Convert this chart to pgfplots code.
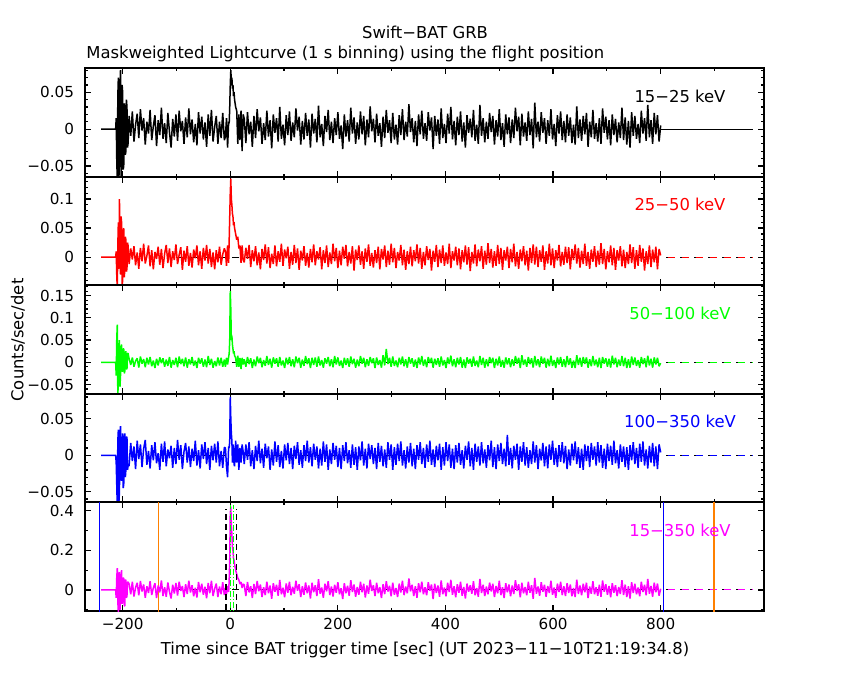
\documentclass[border=0pt]{standalone}
\usepackage{fontspec}
\setmainfont{DejaVu Sans}
\usepackage{pgfplots}
\pgfplotsset{compat=1.18}
\usepackage{pgfplotstable}
\definecolor{bgreen}{RGB}{0,255,0}
\definecolor{bmag}{RGB}{255,0,255}
\definecolor{borange}{RGB}{255,128,0}
\definecolor{bblue}{RGB}{0,0,255}
\definecolor{bred}{RGB}{255,0,0}

% rates in units of 0.001 counts/sec/det
\pgfplotstableread{
t a b c d e
-240 0 0 0 0 0
-213 0 0 0 0 0
-212 15 10 -30 -10 -40
-211 -40 -30 50 -40 60
-210 -70 -55 85 -70 110
-209 45 20 -75 20 -60
-208 70 60 -40 35 -110
-207 -70 -20 30 -65 80
-206 -30 100 50 -50 90
-205 55 40 -55 30 -100
-204 80 -30 -30 40 -50
-203 -65 70 25 -30 70
-202 -40 60 40 -35 100
-201 60 -50 -20 15 -70
-200 50 -40 -20 30 -40
-199 -55 45 30 -45 60
-198 -50 50 30 -40 60
-197 35 -35 -25 25 -80
-196 30 -20 -20 30 -80
-195 -35 35 20 -30 50
-194 -30 30 25 -20 50
-193 40 -25 -15 25 -40
-192 30 -20 -15 25 -30
-191 -25 25 20 -20 40
-190 -20 20 20 -15 40
-188 18 -12 8 -14 30
-185 -9 15 -6 17 -22
-182 24 -4 11 -8 41
-179 -17 19 -10 12 -33
-176 6 -14 3 -19 12
-173 21 8 9 20 36
-170 -12 -20 -12 -5 -27
-167 27 16 13 15 45
-164 -2 -7 -3 -16 -8
-161 15 23 7 9 28
-158 -21 -11 -11 21 -39
-155 10 2 10 -13 19
-152 -6 20 -5 6 -15
-149 26 -16 12 -18 44
-146 -15 12 -9 14 -25
-143 4 -21 4 -7 10
-140 19 9 -13 18 34
-137 -23 -3 8 -11 -41
-134 12 18 -7 3 22
-131 -8 -13 11 -20 -12
-128 29 14 -2 16 48
-125 -13 -19 9 -9 -30
-122 8 6 -10 19 14
-119 -19 21 6 -15 -34
-116 22 -10 -8 8 38
-113 -4 15 12 -4 -9
-110 -25 -17 -12 13 -43
-107 14 10 5 -17 26
-104 -10 -5 -6 10 -18
-101 20 22 10 -12 35
-98 -16 -12 -11 21 -28
-95 25 4 13 -6 42
-92 -3 17 -4 14 -5
-89 11 -22 8 -19 20
-86 -20 11 -9 5 -36
-83 16 -8 11 17 29
-80 -11 19 -12 -10 -20
-77 28 -15 7 12 47
-74 -7 7 -5 -16 -13
-71 13 -18 12 9 24
-68 -18 13 -8 -8 -32
-65 7 -2 4 20 11
-62 -22 20 -13 -14 -38
-59 23 -14 10 7 40
-56 -6 10 -3 -18 -11
-53 17 -20 9 15 31
-50 -14 16 -10 -5 -24
-47 9 -6 6 18 16
-44 -24 21 -11 -12 -42
-41 20 -11 14 10 35
-38 -9 14 -6 -20 -16
-35 26 -17 8 13 46
-32 -17 8 -12 -7 -30
-29 3 -21 3 16 6
-26 18 12 -9 -10 32
-23 -20 -9 11 19 -35
-20 10 18 -7 -15 17
-17 -12 -13 10 6 -21
-14 22 5 -10 -17 39
-11 -15 15 6 11 -26
-9 -10 10 -10 10 10
-7 15 -15 10 -15 -20
-5 -25 20 -5 -30 20
-3 10 -10 12 12 -10
-2 8 30 20 10 50
-1 30 70 50 20 150
0 60 110 160 80 380
1 80 135 120 50 420
2 65 100 50 30 330
3 70 90 60 20 280
4 55 75 40 -10 220
5 60 70 30 15 200
6 45 55 20 10 160
7 50 60 25 -12 150
8 40 50 15 -15 130
10 30 40 10 20 100
12 25 30 -10 -10 80
14 -20 35 15 15 60
16 20 15 -10 -20 50
18 -15 20 10 10 30
20 25 -10 -15 -10 40
22 -30 20 10 15 10
24 20 -5 -5 5 30
26 14 -9 7 -12 25
29 -19 16 -10 15 -31
32 23 -3 12 -6 40
35 -7 21 -4 18 -12
38 10 -17 9 -15 19
41 -24 12 -13 7 -40
44 18 -7 6 -19 30
47 -12 19 -9 13 -21
50 27 -14 13 -8 45
53 -3 8 -2 20 -6
56 16 -21 10 -11 27
59 -20 14 -11 9 -35
62 8 -5 5 -17 14
65 -15 22 -8 16 -26
68 25 -11 14 -4 42
71 -10 17 -6 12 -17
74 12 -19 8 -20 22
77 -26 6 -12 8 -44
80 20 -12 11 -14 34
83 -5 20 -3 19 -9
86 15 -16 9 -9 26
89 -17 10 -10 14 -29
92 30 -8 12 -16 50
95 -13 23 -7 6 -22
98 6 -15 4 -18 11
101 -22 13 -13 15 -37
104 19 -2 10 -7 33
107 -8 18 -5 17 -14
110 24 -20 12 -12 41
113 -16 9 -9 10 -27
116 9 -13 7 -19 16
119 -11 21 -11 13 -19
122 28 -10 13 -5 47
125 -2 15 -2 18 -4
128 17 -22 10 -13 29
131 -21 11 -12 7 -36
134 11 -6 6 -17 19
137 -14 19 -8 14 -24
140 22 -15 14 -8 38
143 -9 7 -4 20 -16
146 13 -18 9 -10 23
149 -25 14 -13 11 -43
152 21 -9 10 -15 36
155 -6 22 -6 16 -11
158 14 -14 11 -6 24
161 -18 10 -10 12 -31
164 32 -4 13 -18 54
167 -11 17 -7 9 -19
170 7 -21 5 -14 12
173 -23 12 -12 19 -39
176 18 -10 9 -9 31
179 -4 20 -3 15 -7
182 26 -17 12 -20 44
185 -15 8 -9 8 -26
188 10 -12 7 -12 17
191 -19 23 -11 17 -33
194 15 -7 14 -6 26
197 -8 16 -5 13 -14
200 23 -19 11 -16 39
203 -13 11 -8 10 -22
206 5 -14 4 -19 9
209 -27 18 -13 14 -46
212 20 -3 10 -8 34
215 -10 21 -6 18 -17
218 12 -16 9 -11 21
221 -17 9 -10 7 -29
224 29 -11 13 -17 49
227 -6 19 -4 15 -10
230 16 -23 8 -13 27
233 -20 13 -12 11 -34
236 9 -5 6 -20 15
239 -14 20 -9 12 -24
242 24 -13 14 -7 41
245 -7 10 -3 19 -12
248 18 -20 10 -14 31
251 -22 15 -11 9 -38
254 13 -8 7 -18 22
257 -11 22 -8 16 -19
260 31 -15 12 -5 52
263 -3 7 -2 14 -5
266 14 -18 9 -12 24
269 -18 12 -13 10 -31
272 21 -10 11 -19 36
275 -9 18 -6 17 -16
278 8 -21 5 -9 14
281 -24 14 -12 13 -41
284 17 -4 16 -15 29
287 -12 20 -7 8 -21
290 26 -17 30 -17 44
293 -5 11 -4 18 -8
296 12 -13 10 -6 21
299 -19 23 -10 15 -32
302 22 -9 13 -20 37
305 -14 16 -8 11 -24
308 6 -19 4 -13 10
311 -21 9 -11 16 -36
314 19 -6 10 -8 32
317 -8 21 -5 19 -13
320 27 -14 13 -14 46
323 -15 13 -9 7 -26
326 10 -22 7 -18 17
329 -10 10 -12 12 -17
332 34 -12 12 -10 58
335 -4 18 -3 17 -7
338 15 -16 9 -15 26
341 -18 12 -10 9 -31
344 11 -7 6 -19 19
347 -23 22 -13 14 -39
350 20 -11 11 -6 34
353 -7 16 -5 18 -12
356 25 -20 14 -12 42
359 -13 9 -8 10 -22
362 8 -14 6 -17 14
365 -16 19 -11 15 -27
368 23 -5 12 -9 39
371 -2 14 -2 20 -4
374 16 -23 10 -13 27
377 -27 11 -12 8 -46
380 18 -8 8 -16 31
383 -9 21 -6 13 -15
386 13 -17 9 -7 22
389 -20 13 -10 16 -34
392 28 -10 13 -20 48
395 -12 20 -7 11 -21
398 7 -15 5 -14 12
401 -19 8 -13 18 -32
404 21 -12 11 -8 36
407 -6 23 -4 15 -10
410 30 -19 15 -17 51
413 -14 10 -9 9 -24
416 11 -6 7 -19 19
419 -22 18 -11 14 -37
422 17 -14 10 -10 29
425 -8 15 -5 17 -14
428 24 -21 12 -13 41
431 -17 12 -12 7 -29
434 9 -9 6 -18 15
437 -25 20 -13 13 -43
440 19 -13 11 -6 32
443 -5 17 -3 19 -9
446 14 -24 8 -15 24
449 -11 9 -10 10 -19
452 26 -11 13 -20 44
455 -16 22 -8 16 -27
458 6 -16 4 -9 10
461 -20 13 -11 12 -34
464 33 -7 14 -14 56
467 -9 19 -6 18 -15
470 15 -20 10 -11 26
473 -18 11 -12 8 -31
476 10 -13 7 -17 17
479 -13 24 -9 14 -22
482 22 -10 12 -7 37
485 -4 14 -2 20 -7
488 18 -18 10 -16 31
491 -21 10 -13 11 -36
494 12 -15 8 -19 20
497 -10 21 -7 15 -17
500 27 -12 13 -8 46
503 -15 16 -10 17 -26
506 8 -22 5 -12 14
509 -24 12 -12 9 -41
512 20 -6 11 -15 34
515 -7 18 -5 28 -12
518 16 -19 9 -13 27
521 -19 14 -11 10 -32
524 13 -9 7 -18 22
527 -12 23 -8 13 -20
530 29 -16 14 -6 49
533 -3 9 -3 16 -5
536 17 -20 10 -20 29
539 -22 13 -13 12 -37
542 21 -7 16 -9 36
545 -10 19 -6 18 -17
548 9 -14 6 -14 15
551 -16 11 -10 11 -27
554 24 -23 12 -17 41
557 -8 16 -4 7 -14
560 14 -10 9 -12 24
563 -26 22 -12 19 -44
566 36 -13 14 -10 61
569 -11 18 -7 14 -19
572 10 -17 7 -19 17
575 -17 12 -11 9 -29
578 23 -8 13 -7 39
581 -5 20 -3 17 -9
584 15 -22 10 -15 26
587 -20 10 -12 12 -34
590 12 -11 8 -18 20
593 -9 23 -9 15 -15
596 27 -14 15 -6 46
599 -14 15 -8 20 -24
602 7 -19 5 -13 12
605 -23 12 -13 10 -39
608 19 -6 11 -16 32
611 -6 21 -5 14 -10
614 24 -16 12 -9 41
617 -15 9 -10 18 -26
620 11 -13 7 -11 19
623 -18 18 -11 13 -31
626 20 -10 14 -19 34
629 -9 17 -6 8 -15
632 16 -21 9 -14 27
635 -19 14 -12 16 -32
638 6 -5 4 -7 10
641 -21 22 -13 19 -36
644 31 -11 16 -12 52
647 -12 16 -6 11 -20
650 13 -18 10 -17 22
653 -16 11 -10 9 -27
656 18 -12 12 -20 31
659 -7 23 -4 15 -12
662 22 -15 11 -8 37
665 -24 9 -12 13 -41
668 10 -20 7 -16 17
671 -11 13 -9 17 -19
674 26 -8 14 -6 44
677 -13 19 -7 12 -22
680 8 -17 6 -14 14
683 -17 11 -11 18 -29
686 15 -13 10 -10 26
689 -20 24 -13 14 -34
692 28 -12 12 -17 48
695 -5 14 -3 9 -9
698 17 -21 9 -19 29
701 -14 10 -10 16 -24
704 12 -9 8 -8 20
707 -22 20 -12 13 -37
710 20 -14 15 -13 34
713 -8 16 -5 20 -14
716 14 -22 10 -11 24
719 -18 12 -11 7 -31
722 9 -6 6 -18 15
725 -12 19 -8 15 -20
728 29 -16 14 -9 49
731 -15 13 -9 12 -26
734 16 -19 10 -16 27
737 -21 9 -13 11 -36
740 11 -12 7 -20 19
743 -25 22 -12 14 -43
746 23 -10 13 -7 39
749 -9 17 -6 18 -15
752 18 -20 11 -12 31
755 -13 12 -8 10 -22
758 7 -15 5 -17 12
761 -19 21 -12 16 -32
764 25 -8 12 -9 42
767 -6 15 -4 19 -10
770 15 -23 9 -14 26
773 -16 10 -11 8 -27
776 33 -12 15 -18 56
779 -11 20 -7 13 -19
782 12 -17 8 -10 20
785 -20 13 -12 17 -34
788 22 -9 11 -15 37
791 -7 18 -5 12 -12
794 19 -21 10 -19 32
797 -17 14 -9 15 -29
800 5 3 -2 4 6
}\lcdata

\newcommand{\tf}{\fontsize{8.2}{9}\selectfont}

\pgfplotsset{
  lcpanel/.style={
    scale only axis, width=339.5pt,
    xmin=-270, xmax=992,
    xtick={-200,0,200,400,600,800},
    minor xtick={-100,100,300,500,700,900},
    xticklabels={},
    scaled y ticks=false,
    tick align=inside,
    major tick length=3pt, minor tick length=1.6pt,
    every tick/.style={black, line width=0.6pt},
    axis line style={line width=0.7pt},
    tick label style={font=\fontsize{7.6}{8}\selectfont},
    yticklabel style={xshift=-2pt},
    clip=true,
  },
  zl/.style={black, line width=0.5pt, dash pattern=on 3.5pt off 3.5pt, forget plot},
  tail/.style={line width=0.5pt, dash pattern=on 3.5pt off 3.5pt, dash phase=3.5pt, forget plot},
  dat/.style={line width=0.75pt, line join=bevel},
}

\begin{document}
\begin{tikzpicture}
\path[use as bounding box] (0,0) rectangle (425pt,-340pt);

% Panel 1: 15-25 keV
\begin{axis}[lcpanel, at={(42.5pt,-34pt)}, anchor=north west, height=54.5pt,
  ymin=-65, ymax=83,
  ytick={-50,0,50}, yticklabels={−0.05,0,0.05},
  minor ytick={-60,-50,...,80}]
\addplot[black, line width=0.5pt] coordinates {(800,0) (972,0)};
\addplot[black, dat] table[x=t, y=a] {\lcdata};
\end{axis}

% Panel 2: 25-50 keV
\begin{axis}[lcpanel, at={(42.5pt,-88.5pt)}, anchor=north west, height=54pt,
  ymin=-48, ymax=138,
  ytick={0,50,100}, yticklabels={0,0.05,0.1},
  minor ytick={-40,-30,...,130}]
\addplot[zl] coordinates {(-100,0) (972,0)};
\addplot[tail, bred] coordinates {(800,0) (972,0)};
\addplot[bred, dat] table[x=t, y=b] {\lcdata};
\end{axis}

% Panel 3: 50-100 keV
\begin{axis}[lcpanel, at={(42.5pt,-142.5pt)}, anchor=north west, height=54.5pt,
  ymin=-71.4, ymax=174,
  ytick={-50,0,50,100,150}, yticklabels={−0.05,0,0.05,0.1,0.15},
  minor ytick={-70,-60,...,170}]
\addplot[zl] coordinates {(-100,0) (972,0)};
\addplot[tail, bgreen] coordinates {(800,0) (972,0)};
\addplot[bgreen, dat] table[x=t, y=c] {\lcdata};
\end{axis}

% Panel 4: 100-350 keV
\begin{axis}[lcpanel, at={(42.5pt,-197pt)}, anchor=north west, height=54pt,
  ymin=-64, ymax=84,
  ytick={-50,0,50}, yticklabels={−0.05,0,0.05},
  minor ytick={-60,-50,...,80}]
\addplot[zl] coordinates {(-100,0) (972,0)};
\addplot[tail, bblue] coordinates {(800,0) (972,0)};
\addplot[bblue, dat] table[x=t, y=d] {\lcdata};
\end{axis}

% Panel 5: 15-350 keV
\begin{axis}[lcpanel, at={(42.5pt,-251pt)}, anchor=north west, height=54.5pt,
  ymin=-106, ymax=443,
  ytick={0,200,400}, yticklabels={0,0.2,0.4},
  minor ytick={-100,100,300},
  xticklabels={−200,0,200,400,600,800}]
\addplot[zl] coordinates {(-100,0) (972,0)};
\addplot[tail, bmag] coordinates {(800,0) (972,0)};
\addplot[bblue, line width=0.6pt] coordinates {(-243,-200) (-243,500)};
\addplot[bblue, line width=0.6pt] coordinates {(805,-200) (805,500)};
\addplot[borange, line width=0.6pt] coordinates {(-133,-200) (-133,500)};
\addplot[borange, line width=0.6pt] coordinates {(899,-200) (899,500)};
\addplot[bmag, dat] table[x=t, y=e] {\lcdata};
\addplot[black, line width=0.6pt, dash pattern=on 3pt off 2pt] coordinates {(-8,-200) (-8,410)};
\addplot[black, line width=0.6pt, dash pattern=on 3pt off 2pt] coordinates {(11,-200) (11,410)};
\addplot[bgreen, line width=0.6pt, dash pattern=on 3pt off 1pt on 0.5pt off 1pt] coordinates {(0,-200) (0,430)};
\addplot[bgreen, line width=0.6pt, dash pattern=on 3pt off 1pt on 0.5pt off 1pt] coordinates {(6,-200) (6,430)};
\end{axis}

% Texts
\node[font=\tf] at (212.5pt,-16pt) {Swift−BAT GRB};
\node[font=\tf, anchor=west, inner sep=0pt] at (43pt,-27pt) {Maskweighted Lightcurve (1 s binning) using the flight position};
\node[font=\tf, text=black] at (340pt,-48pt) {15−25 keV};
\node[font=\tf, text=bred] at (340pt,-102pt) {25−50 keV};
\node[font=\tf, text=bgreen] at (340pt,-156.5pt) {50−100 keV};
\node[font=\tf, text=bblue] at (340pt,-210.8pt) {100−350 keV};
\node[font=\tf, text=bmag] at (340pt,-265pt) {15−350 keV};
\node[font=\tf, rotate=90] at (9pt,-170pt) {Counts/sec/det};
\node[font=\tf] at (212.5pt,-325pt) {Time since BAT trigger time [sec] (UT 2023−11−10T21:19:34.8)};
\end{tikzpicture}
\end{document}
